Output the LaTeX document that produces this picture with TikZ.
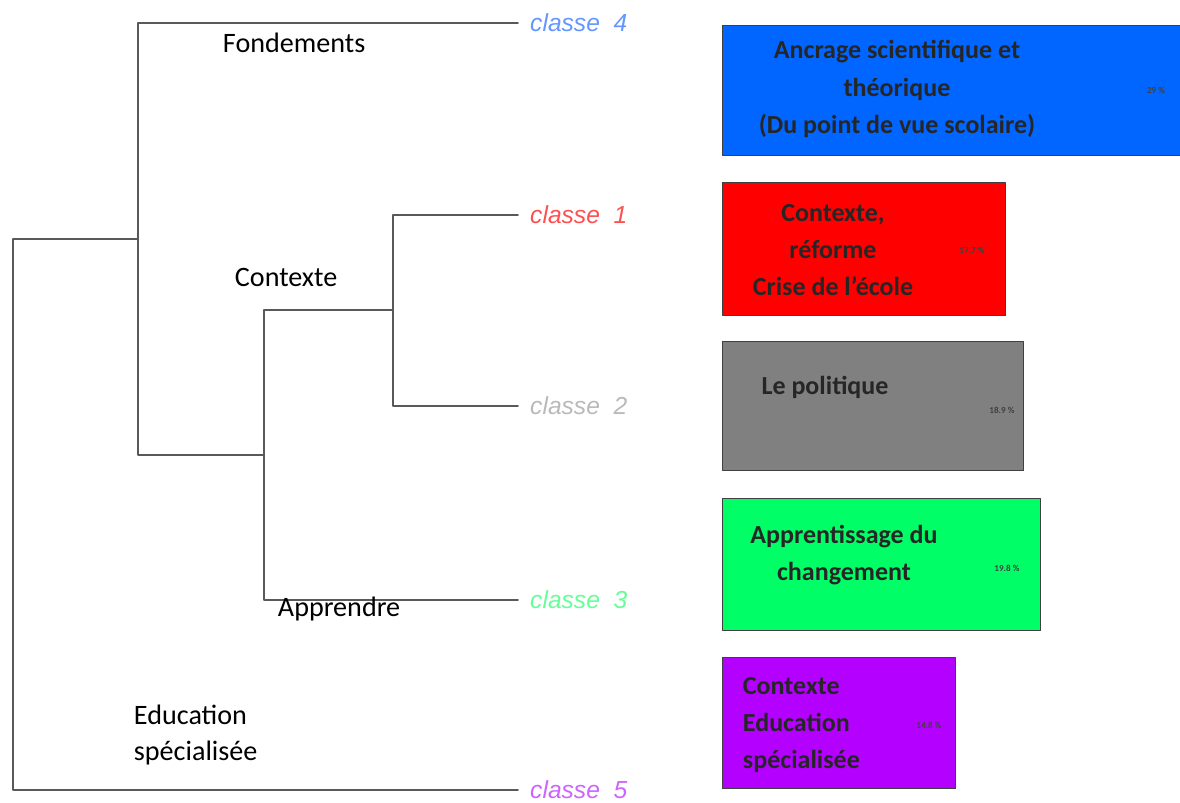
\documentclass[tikz,border=0pt]{standalone}
\usepackage{fontspec}
\setmainfont{Carlito}
\newfontfamily\leaffont{Liberation Sans}
\definecolor{boxblue}{RGB}{0,102,255}
\definecolor{boxred}{RGB}{255,0,0}
\definecolor{boxgray}{RGB}{128,128,128}
\definecolor{boxgreen}{RGB}{0,255,102}
\definecolor{boxviolet}{RGB}{180,0,255}
\definecolor{leafblue}{RGB}{100,150,255}
\definecolor{leafred}{RGB}{255,80,80}
\definecolor{leafgray}{RGB}{185,185,185}
\definecolor{leafgreen}{RGB}{100,255,150}
\definecolor{leafviolet}{RGB}{205,100,255}
\tikzset{
 branch/.style={draw=black!65, line width=1.4pt},
 leaf/.style={font=\leaffont\itshape\fontsize{17.5}{20}\selectfont, anchor=west, inner ysep=0pt, inner xsep=8.5pt},
 catbox/.style={draw=black!75, line width=1pt, anchor=north west, inner sep=0pt},
 boxtext/.style={font=\bfseries\fontsize{18.5}{26.5}\selectfont, text=black!85},
 pct/.style={font=\bfseries\fontsize{6.5}{7}\selectfont, text=black!75},
 grouplabel/.style={font=\fontsize{20}{25}\selectfont, anchor=west, align=left}
}
\begin{document}
\begin{tikzpicture}[x=0.025cm, y=-0.025cm, line cap=round, line join=round]
 \useasboundingbox (0,0) rectangle (1180,803);
 % leaves of the tree
 \node[leaf, text=leafblue] (c4) at (518,23) {classe\ \ 4};
 \node[leaf, text=leafred] (c1) at (518,215) {classe\ \ 1};
 \node[leaf, text=leafgray] (c2) at (518,406) {classe\ \ 2};
 \node[leaf, text=leafgreen] (c3) at (518,600) {classe\ \ 3};
 \node[leaf, text=leafviolet] (c5) at (518,790) {classe\ \ 5};
 % junctions
 \coordinate (j12) at (393,406);
 \coordinate (j12m) at (393,310);
 \coordinate (j123) at (264,310);
 \coordinate (j123m) at (264,455);
 \coordinate (j4) at (138,455);
 \coordinate (j4m) at (138,239);
 \coordinate (root) at (13,239);
 \draw[branch] (c1.west) -| (j12) -- (c2.west);
 \draw[branch] (c3.west) -| (j123) -- (j12m);
 \draw[branch] (c4.west) -| (j4) -- (j123m);
 \draw[branch] (c5.west) -| (root) -- (j4m);
 % group names
 \node[grouplabel] (gfond) at (218,43) {Fondements};
 \node[grouplabel] (gctx) at (230,277) {Contexte};
 \node[grouplabel] (gapp) at (273,609) {Apprendre};
 \node[grouplabel] (gedu) at (129,735) {Education\\spécialisée};
 % class boxes
 \node[catbox, fill=boxblue, minimum width=11.45cm, minimum height=3.25cm] (b4) at (722,25) {};
 \node[catbox, fill=boxred, minimum width=7.075cm, minimum height=3.325cm] (b1) at (722,182) {};
 \node[catbox, fill=boxgray, minimum width=7.525cm, minimum height=3.225cm] (b2) at (722,341) {};
 \node[catbox, fill=boxgreen, minimum width=7.95cm, minimum height=3.3cm] (b3) at (722,498) {};
 \node[catbox, fill=boxviolet, minimum width=5.825cm, minimum height=3.275cm] (b5) at (722,657) {};
 \node[boxtext, align=center] (t4) at (897,89) {Ancrage scientifique et\\théorique\\(Du point de vue scolaire)};
 \node[boxtext, align=center] (t1) at (833,250) {Contexte,\\réforme\\Crise de l’école};
 \node[boxtext] (t2) at (825,387) {Le politique};
 \node[boxtext, align=center] (t3) at (844,555) {Apprentissage du\\changement};
 \node[boxtext, align=left, anchor=west] (t5) at (738,725) {Contexte\\Education\\spécialisée};
 % percentages
 \node[pct] (p4) at (1156,90) {29 \%};
 \node[pct] (p1) at (972,250) {17.7 \%};
 \node[pct] (p2) at (1002,410) {18.9 \%};
 \node[pct] (p3) at (1007,568) {19.8 \%};
 \node[pct] (p5) at (929,725) {14.8 \%};
\end{tikzpicture}
\end{document}
